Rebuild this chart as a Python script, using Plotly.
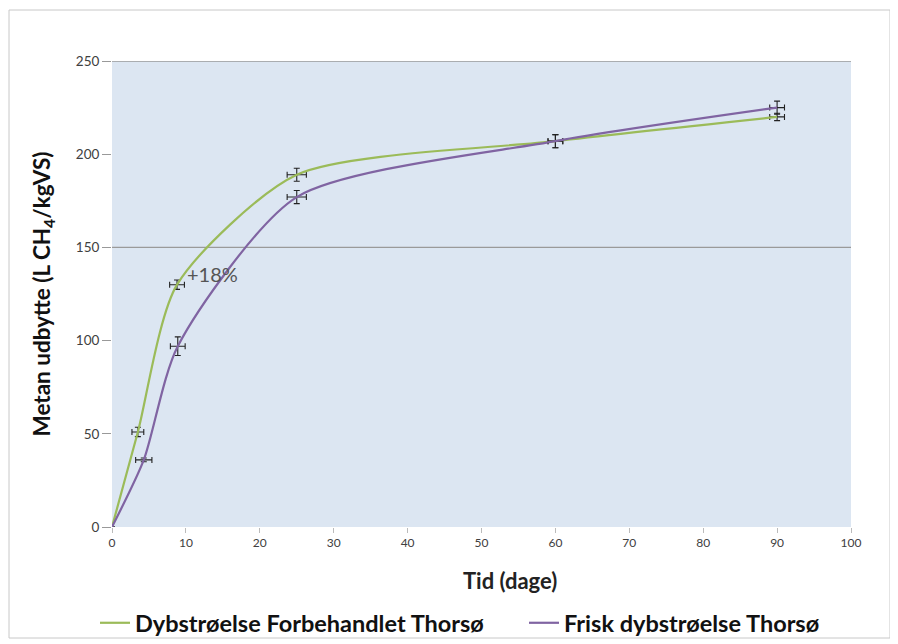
import plotly.graph_objects as go

# Data
days_green = [0, 3.5, 8.8, 25, 60, 90]
yield_green = [0, 51, 130, 189, 207, 220]
errx_green = [0, 0.8, 1.0, 1.3, 1.0, 1.0]
erry_green = [0, 2.5, 2.5, 3.5, 3.5, 2.0]

days_purple = [0, 4.3, 8.9, 25, 60, 90]
yield_purple = [0, 36, 97, 177, 207, 225]
errx_purple = [0, 1.1, 1.0, 1.3, 1.0, 1.0]
erry_purple = [0, 1.0, 5.0, 3.5, 3.5, 3.5]

name_green = "Dybstrøelse Forbehandlet Thorsø"
name_purple = "Frisk dybstrøelse Thorsø"
x_title = "Tid (dage)"
y_title = "Metan udbytte (L CH<sub>4</sub>/kgVS)"
x_ticks = list(range(0, 101, 10))
y_ticks = list(range(0, 251, 50))
grid_levels = [150, 250]

GREEN = "#9bbb59"
PURPLE = "#8064a2"
FONT = "Lato, 'Open Sans', sans-serif"

W, H = 898, 644
OFF = 8  # page body margin
# plot area in page pixels
PL, PR, PT, PB = 112, 851, 61, 527
L, R, T, B = PL - OFF, W - (PR - OFF), PT - OFF, H - (PB - OFF)
pw, ph = W - L - R, H - T - B

def px_x(p):
    return (p - OFF - L) / pw

def px_y(p):
    return (H - B - (p - OFF)) / ph

fig = go.Figure()
for xs, ys, ex, ey, nm, col, lg in [
    (days_green, yield_green, errx_green, erry_green, name_green, GREEN, "legend"),
    (days_purple, yield_purple, errx_purple, erry_purple, name_purple, PURPLE, "legend2"),
]:
    fig.add_trace(go.Scatter(
        x=xs, y=ys, name="<b>" + nm + "</b>", mode="lines", legend=lg,
        line=dict(color=col, width=2.2, shape="spline", smoothing=0.7),
        error_x=dict(type="data", array=ex, color="#222222", thickness=1.1, width=3),
        error_y=dict(type="data", array=ey, color="#222222", thickness=1.1, width=3),
    ))

fig.add_annotation(x=9.9, y=136, text="+18%", showarrow=False, xanchor="left",
                   font=dict(family=FONT, size=20, color="#555555"))

# x-axis title (placed slightly right of centre like the reference)
fig.add_annotation(xref="paper", yref="paper", x=px_x(510), y=px_y(580),
                   xanchor="center", yanchor="middle", showarrow=False,
                   text="<b>" + x_title + "</b>",
                   font=dict(family=FONT, size=22, color="#222222"))

for g in grid_levels:
    fig.add_shape(type="line", xref="x", yref="y", x0=0, x1=100, y0=g, y1=g,
                  line=dict(color="#9a9a9a", width=1.3), layer="below")

# outer chart border
fig.add_shape(type="rect", xref="paper", yref="paper",
              x0=px_x(9), x1=px_x(890), y0=px_y(638), y1=px_y(10),
              line=dict(color="#c8c8c8", width=1), fillcolor="rgba(0,0,0,0)")

leg_font = dict(family=FONT, size=23.5, color="#111111")
fig.update_layout(
    width=W, height=H,
    margin=dict(l=L, r=R, t=T, b=B, autoexpand=False),
    paper_bgcolor="white",
    plot_bgcolor="#dce6f2",
    font=dict(family=FONT, size=11, color="#404040"),
    showlegend=True,
    legend=dict(orientation="h", x=px_x(95), y=px_y(623), xanchor="left", yanchor="middle",
                font=leg_font, bgcolor="rgba(0,0,0,0)"),
    legend2=dict(orientation="h", x=px_x(524), y=px_y(623), xanchor="left", yanchor="middle",
                 font=leg_font, bgcolor="rgba(0,0,0,0)"),
    xaxis=dict(range=[0, 100], tickvals=x_ticks, showgrid=False, zeroline=False,
               ticks="outside", ticklen=5, tickcolor="#bbbbbb", automargin=False,
               showline=False, tickfont=dict(size=12, color="#404040")),
    yaxis=dict(range=[0, 250], tickvals=y_ticks, showgrid=False, zeroline=False,
               ticks="outside", ticklen=9, tickcolor="#999999", automargin=False,
               showline=False, tickfont=dict(size=13.5, color="#404040"),
               title=dict(text="<b>" + y_title + "</b>",
                          font=dict(family=FONT, size=22.5, color="#111111"),
                          standoff=18)),
)

fig.write_html("out.html")
